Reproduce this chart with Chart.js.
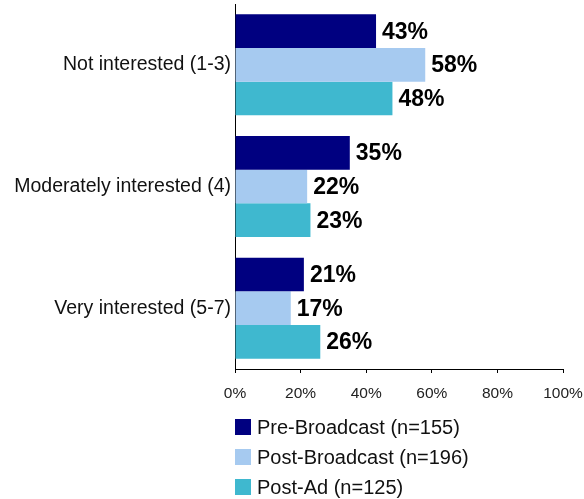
<!DOCTYPE html>
<html>
<head>
<meta charset="utf-8">
<script src="https://cdn.jsdelivr.net/npm/chart.js@4"></script>
<style>
  html, body { margin: 0; padding: 0; background: #fff; }
  #wrap { width: 584px; height: 499px; position: relative; }
</style>
</head>
<body>
<div id="wrap"><canvas id="c"></canvas></div>
<script>
/* interest levels by wave — horizontal grouped bars */
const CATEGORIES = ["Not interested (1-3)", "Moderately interested (4)", "Very interested (5-7)"];
const SERIES_NAMES = ["Pre-Broadcast (n=155)", "Post-Broadcast (n=196)", "Post-Ad (n=125)"];
const PRE_BROADCAST = [43, 35, 21];
const POST_BROADCAST = [58, 22, 17];
const POST_AD = [48, 23, 26];
const X_TICKS = [0, 20, 40, 60, 80, 100];
const COLORS = ["#000080", "#a6caf0", "#3fb8cf"];

const FONT = "'Liberation Sans', Arial, sans-serif";

// value labels right of each bar
const barLabels = {
  id: "barLabels",
  afterDatasetsDraw(chart) {
    const ctx = chart.ctx;
    ctx.save();
    ctx.font = `bold 23px ${FONT}`;
    ctx.fillStyle = "#000";
    ctx.textAlign = "left";
    ctx.textBaseline = "middle";
    chart.data.datasets.forEach((ds, i) => {
      chart.getDatasetMeta(i).data.forEach((bar, j) => {
        ctx.fillText(ds.data[j] + "%", bar.x + 6, bar.y + 1);
      });
    });
    ctx.restore();
  },
};

// vertical legend under the plot, aligned with the y axis
const sideLegend = {
  id: "sideLegend",
  afterDraw(chart) {
    const ctx = chart.ctx, a = chart.chartArea;
    ctx.save();
    ctx.font = `20px ${FONT}`;
    ctx.textBaseline = "middle";
    chart.data.datasets.forEach((ds, i) => {
      const cy = a.bottom + 58 + i * 30;
      ctx.fillStyle = ds.backgroundColor;
      ctx.fillRect(a.left, cy - 8, 16, 16);
      ctx.fillStyle = "#111";
      ctx.fillText(ds.label, a.left + 22, cy + 1);
    });
    ctx.restore();
  },
};

const datasets = [PRE_BROADCAST, POST_BROADCAST, POST_AD].map((data, i) => ({
  label: SERIES_NAMES[i],
  data,
  backgroundColor: COLORS[i],
  borderWidth: 0,
  categoryPercentage: 0.83,
  barPercentage: 1.0,
}));

new Chart(document.getElementById("c"), {
  type: "bar",
  data: { labels: CATEGORIES, datasets },
  options: {
    indexAxis: "y",
    responsive: true,
    maintainAspectRatio: false,
    animation: false,
    layout: { padding: { top: 4, right: 21, bottom: 99, left: 0 } },
    plugins: { legend: { display: false }, tooltip: { enabled: false } },
    scales: {
      x: {
        min: 0, max: 100,
        afterBuildTicks: (s) => { s.ticks = X_TICKS.map((v) => ({ value: v })); },
        afterFit: (s) => { s.height = 31; s.paddingLeft = 0; s.paddingRight = 0; },
        grid: { drawOnChartArea: false, drawTicks: true, tickLength: 4, color: "#000" },
        border: { color: "#000", width: 1 },
        ticks: { color: "#222", font: { family: FONT, size: 15.5 }, padding: 11, callback: (v) => v + "%" },
      },
      y: {
        afterFit: (s) => { s.width = 235; s.paddingTop = 0; s.paddingBottom = 0; },
        grid: { display: false, drawTicks: false },
        border: { color: "#000", width: 1 },
        ticks: { color: "#111", font: { family: FONT, size: 19.5 }, padding: 4 },
      },
    },
  },
  plugins: [barLabels, sideLegend],
});
</script>
</body>
</html>
